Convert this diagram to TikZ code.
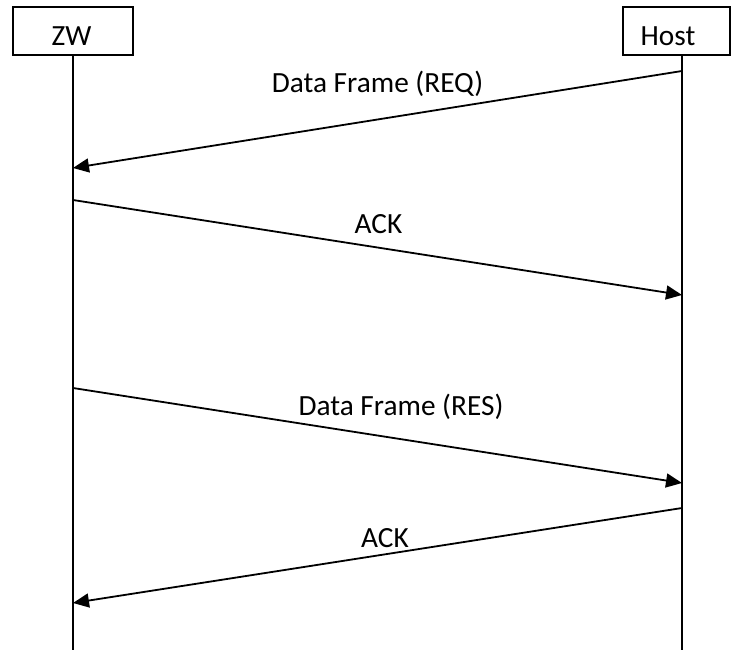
\documentclass[tikz,border=0pt]{standalone}
\usepackage{fontspec}
\setmainfont{Carlito}
\usetikzlibrary{arrows.meta}
\begin{document}
\begin{tikzpicture}[x=1bp,y=-1bp,
  line width=1.8bp,
  actorbox/.style={draw,rectangle,inner sep=0pt},
  txt/.style={inner sep=0pt,anchor=base,font=\fontsize{29.3bp}{33bp}\selectfont},
  msg/.style={-{Triangle[length=16bp,width=14bp]}}]
\useasboundingbox (0,0) rectangle (732,650);
% participants
\node[actorbox,minimum width=120bp,minimum height=48bp] (zwbox) at (73,31) {};
\node[actorbox,minimum width=107bp,minimum height=48bp] (hostbox) at (676.5,31) {};
\node[txt] (zwtxt) at (71.5,45.5) {ZW};
\node[txt] (hosttxt) at (668,45.5) {Host};
% lifelines
\coordinate (zwtop) at (73,55);
\coordinate (hosttop) at (682,55);
\coordinate (zwend) at (73,650);
\coordinate (hostend) at (682,650);
\draw (zwtop) -- (zwend);
\draw (hosttop) -- (hostend);
% message end points
\coordinate (h1) at (682,71);
\coordinate (z1) at (73,168);
\coordinate (z2) at (73,200);
\coordinate (h2) at (682,295);
\coordinate (z3) at (73,388);
\coordinate (h3) at (682,483);
\coordinate (h4) at (682,508);
\coordinate (z4) at (73,603);
% messages
\draw[msg] (h1) -- (z1);
\draw[msg] (z2) -- (h2);
\draw[msg] (z3) -- (h3);
\draw[msg] (h4) -- (z4);
% labels
\node[txt] (lreq) at (377.5,93) {Data Frame (REQ)};
\node[txt] (lack1) at (378.5,233) {ACK};
\node[txt] (lres) at (401,415) {Data Frame (RES)};
\node[txt] (lack2) at (385,547) {ACK};
\end{tikzpicture}
\end{document}
